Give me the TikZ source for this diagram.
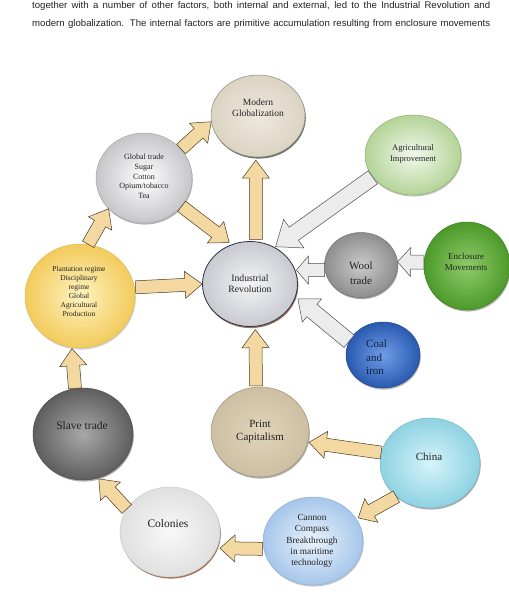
\documentclass[tikz,border=0pt]{standalone}
\usepackage{fontspec}
\setmainfont{Liberation Serif}
\newfontfamily\topfont{Liberation Sans}
\usetikzlibrary{shapes.geometric,calc,shadows}
\definecolor{tanfill}{HTML}{F3D8A2}
\definecolor{tanline}{HTML}{4A3C22}
\definecolor{grayfill}{HTML}{ECECEC}
\definecolor{grayline}{HTML}{4E4E4E}
\definecolor{txt}{HTML}{222222}
\definecolor{mgin}{HTML}{EEE9DE}\definecolor{mgout}{HTML}{DCD3C2}\definecolor{mgsh}{HTML}{2F3A22}
\definecolor{gtout}{HTML}{C6C6C9}
\definecolor{aiin}{HTML}{F2F8EC}\definecolor{aiout}{HTML}{B3D497}\definecolor{aidr}{HTML}{8DAF70}
\definecolor{woolin}{HTML}{CACACA}\definecolor{woolout}{HTML}{8E8E8E}
\definecolor{encin}{HTML}{8FCB6A}\definecolor{encout}{HTML}{4C9A2A}\definecolor{encdr}{HTML}{3E7E22}
\definecolor{irin}{HTML}{F4F4F6}\definecolor{irout}{HTML}{C8CAD0}\definecolor{irdr}{HTML}{27304A}\definecolor{brsh}{HTML}{7A3A18}
\definecolor{plin}{HTML}{FFF3C0}\definecolor{plout}{HTML}{F2CB5C}\definecolor{pldr}{HTML}{E0BC60}
\definecolor{coalin}{HTML}{6E9EE6}\definecolor{coalout}{HTML}{2A5AB0}\definecolor{coaldr}{HTML}{24488C}\definecolor{coaltxt}{HTML}{15203A}
\definecolor{pcin}{HTML}{E0D4BC}\definecolor{pcout}{HTML}{CDBFA2}\definecolor{pcdr}{HTML}{9C9280}
\definecolor{chin}{HTML}{D6F4FA}\definecolor{chout}{HTML}{8ED2E2}\definecolor{chdr}{HTML}{79B8C8}
\definecolor{canin}{HTML}{EAF3FC}\definecolor{canout}{HTML}{A6C6EA}\definecolor{candr}{HTML}{8FB0D8}
\definecolor{slin}{HTML}{A8A8A8}\definecolor{slout}{HTML}{5E5E5E}
\definecolor{colin}{HTML}{F8F8F8}\definecolor{colout}{HTML}{E0E0E0}
\tikzset{
  bub/.style={ellipse, inner sep=0pt, line width=0.5pt},
  shad/.style={drop shadow={shadow xshift=0.8pt, shadow yshift=-1.6pt, fill=#1, opacity=0.7}},
  tanarr/.style={fill=tanfill, draw=tanline, line width=0.5pt, line join=miter},
  grayarr/.style={fill=grayfill, draw=grayline, line width=0.5pt, line join=miter},
  lbl/.style={align=center, inner sep=0pt, text=txt},
  toptext/.style={anchor=base west, inner sep=0pt, font=\topfont\fontsize{9.6}{11}\selectfont, text=txt},
}
% style, from, to, shaft half, head half, head length, gap start, gap end
\newcommand\blockarr[8]{%
  \path[#1] let \p1=($#2!#7pt!#3$), \p2=($#3!#8pt!#2$),
    \n1={atan2(\y2-\y1,\x2-\x1)}, \n2={veclen(\x2-\x1,\y2-\y1)}, \n3={\n2-#6} in
    ($(\p1)+({\n1-90}:#4pt)$) -- ($(\p1)+({\n1}:{\n3*1pt})+({\n1-90}:#4pt)$)
    -- ($(\p1)+({\n1}:{\n3*1pt})+({\n1-90}:#5pt)$) -- (\p2)
    -- ($(\p1)+({\n1}:{\n3*1pt})+({\n1+90}:#5pt)$) -- ($(\p1)+({\n1}:{\n3*1pt})+({\n1+90}:#4pt)$)
    -- ($(\p1)+({\n1+90}:#4pt)$) -- cycle;}
\begin{document}
\begin{tikzpicture}[x=1pt,y=-1pt]
\useasboundingbox[fill=white] (0,0) rectangle (509,603);
% top text
\node[toptext] (top1) at (32,8.3)
  {\makebox[458pt][s]{together with a number of other factors, both internal and external, led to the Industrial Revolution and}};
\node[toptext] (top2) at (32,26.3)
  {\makebox[458pt][s]{modern globalization. The internal factors are primitive accumulation resulting from enclosure movements}};
% bubbles
\node[bub, shad=mgsh, draw=black!45, minimum width=94pt, minimum height=82pt, inner color=mgin, outer color=mgout] (mg) at (258,116) {};
\node[bub, shad=black!40, draw=black!35, minimum width=96pt, minimum height=90pt, inner color=white, outer color=gtout] (gt) at (144,178) {};
\node[bub, shad=black!30, draw=aidr, minimum width=96pt, minimum height=80pt, inner color=aiin, outer color=aiout] (ai) at (413,155) {};
\node[bub, shad=black!50, draw=black!55, minimum width=73pt, minimum height=65pt, inner color=woolin, outer color=woolout] (wool) at (361,265) {};
\node[bub, shad=black!40, draw=encdr, minimum width=86pt, minimum height=88pt, inner color=encin, outer color=encout] (enc) at (467,266) {};
\node[bub, shad=brsh, draw=irdr, line width=0.8pt, minimum width=95pt, minimum height=85pt, inner color=irin, outer color=irout] (ir) at (250,284) {};
\node[bub, shad=black!25, draw=pldr, minimum width=110pt, minimum height=104pt, inner color=plin, outer color=plout] (pl) at (80,296) {};
\node[bub, shad=black!40, draw=coaldr, minimum width=74pt, minimum height=66pt, inner color=coalin, outer color=coalout] (coal) at (383,355) {};
\node[bub, shad=black!45, draw=pcdr, minimum width=98pt, minimum height=90pt, inner color=pcin, outer color=pcout] (pc) at (260,432) {};
\node[bub, shad=black!45, draw=chdr, minimum width=100pt, minimum height=90pt, inner color=chin, outer color=chout] (ch) at (430,463) {};
\node[bub, shad=black!30, draw=candr, minimum width=100pt, minimum height=88pt, inner color=canin, outer color=canout] (can) at (313,541) {};
\node[bub, shad=black!45, draw=black!70, minimum width=100pt, minimum height=92pt, inner color=slin, outer color=slout] (sl) at (83,434) {};
\node[bub, shad=brsh, draw=black!20, minimum width=100pt, minimum height=90pt, inner color=colin, outer color=colout] (col) at (170,532) {};
% labels
\node[lbl, font=\fontsize{9.5}{11}\selectfont] (t-mg) at (258,107.5) {Modern\\Globalization};
\node[lbl, font=\fontsize{8}{9.7}\selectfont] (t-gt) at (144,176.5) {Global trade\\Sugar\\Cotton\\Opium/tobacco\\Tea};
\node[lbl, font=\fontsize{8.5}{11}\selectfont] (t-ai) at (413,153.5) {Agricultural\\Improvement};
\node[lbl, font=\fontsize{11}{15}\selectfont] (t-wool) at (361,273.5) {Wool\\trade};
\node[lbl, font=\fontsize{9}{10.5}\selectfont] (t-enc) at (466,262) {Enclosure\\Movements};
\node[lbl, font=\fontsize{9.7}{11}\selectfont] (t-ir) at (250,284) {Industrial\\Revolution};
\node[lbl, font=\fontsize{7.5}{9}\selectfont] (t-pl) at (79,291.5) {Plantation regime\\Disciplinary\\regime\\Global\\Agricultural\\Production};
\node[lbl, align=left, anchor=west, text=coaltxt, font=\fontsize{11}{13.4}\selectfont] (t-coal) at (366,357.5) {Coal\\and\\iron};
\node[lbl, font=\fontsize{11}{13.3}\selectfont] (t-pc) at (260,431.5) {Print\\Capitalism};
\node[lbl, font=\fontsize{11}{13}\selectfont] (t-ch) at (429,457) {China};
\node[lbl, font=\fontsize{9.3}{11.25}\selectfont] (t-can) at (312,541) {Cannon\\Compass\\Breakthrough\\in maritime\\technology};
\node[lbl, font=\fontsize{11.5}{13}\selectfont] (t-sl) at (82,426) {Slave trade};
\node[lbl, font=\fontsize{11.5}{13}\selectfont] (t-col) at (168,524) {Colonies};
% arrows
\blockarr{tanarr}{(gt.38)}{(mg.187)}{6.5}{13.5}{17}{0}{0}
\blockarr{tanarr}{(ir.82)}{(mg.267)}{6.5}{13.5}{18}{2}{3}
\blockarr{tanarr}{(gt.-37)}{(ir.115)}{6.5}{13.5}{17}{0}{3}
\blockarr{tanarr}{(pl.9)}{(ir.180)}{6.5}{13.5}{17}{1}{0}
\blockarr{tanarr}{(pl.81)}{(gt.221)}{6.5}{13.5}{17}{0}{0}
\blockarr{tanarr}{(sl.100)}{(pl.261)}{6.5}{13.5}{17}{0}{1}
\blockarr{tanarr}{(col.152)}{(sl.-71)}{6.5}{13.5}{17}{0}{1}
\blockarr{tanarr}{(can.189)}{(col.-19)}{6.5}{13.5}{15}{1}{3}
\blockarr{tanarr}{(ch.225)}{(can.27)}{6.5}{13.5}{15}{0}{2}
\blockarr{tanarr}{(ch.168)}{(pc.-12)}{6.5}{13.5}{17}{0}{1}
\blockarr{tanarr}{(pc.95)}{(ir.-83)}{6.5}{13.5}{18}{1}{3}
\blockarr{grayarr}{(coal.158)}{(ir.-16)}{8}{15}{18}{0}{3}
\blockarr{grayarr}{(wool.188)}{(ir.17)}{6.5}{14}{12}{0}{1}
\blockarr{grayarr}{(enc.175)}{(wool.5)}{7}{14.5}{13}{0}{0}
\blockarr{grayarr}{(ai.209)}{(ir.56)}{8}{17.5}{22}{0}{1}
\end{tikzpicture}
\end{document}
